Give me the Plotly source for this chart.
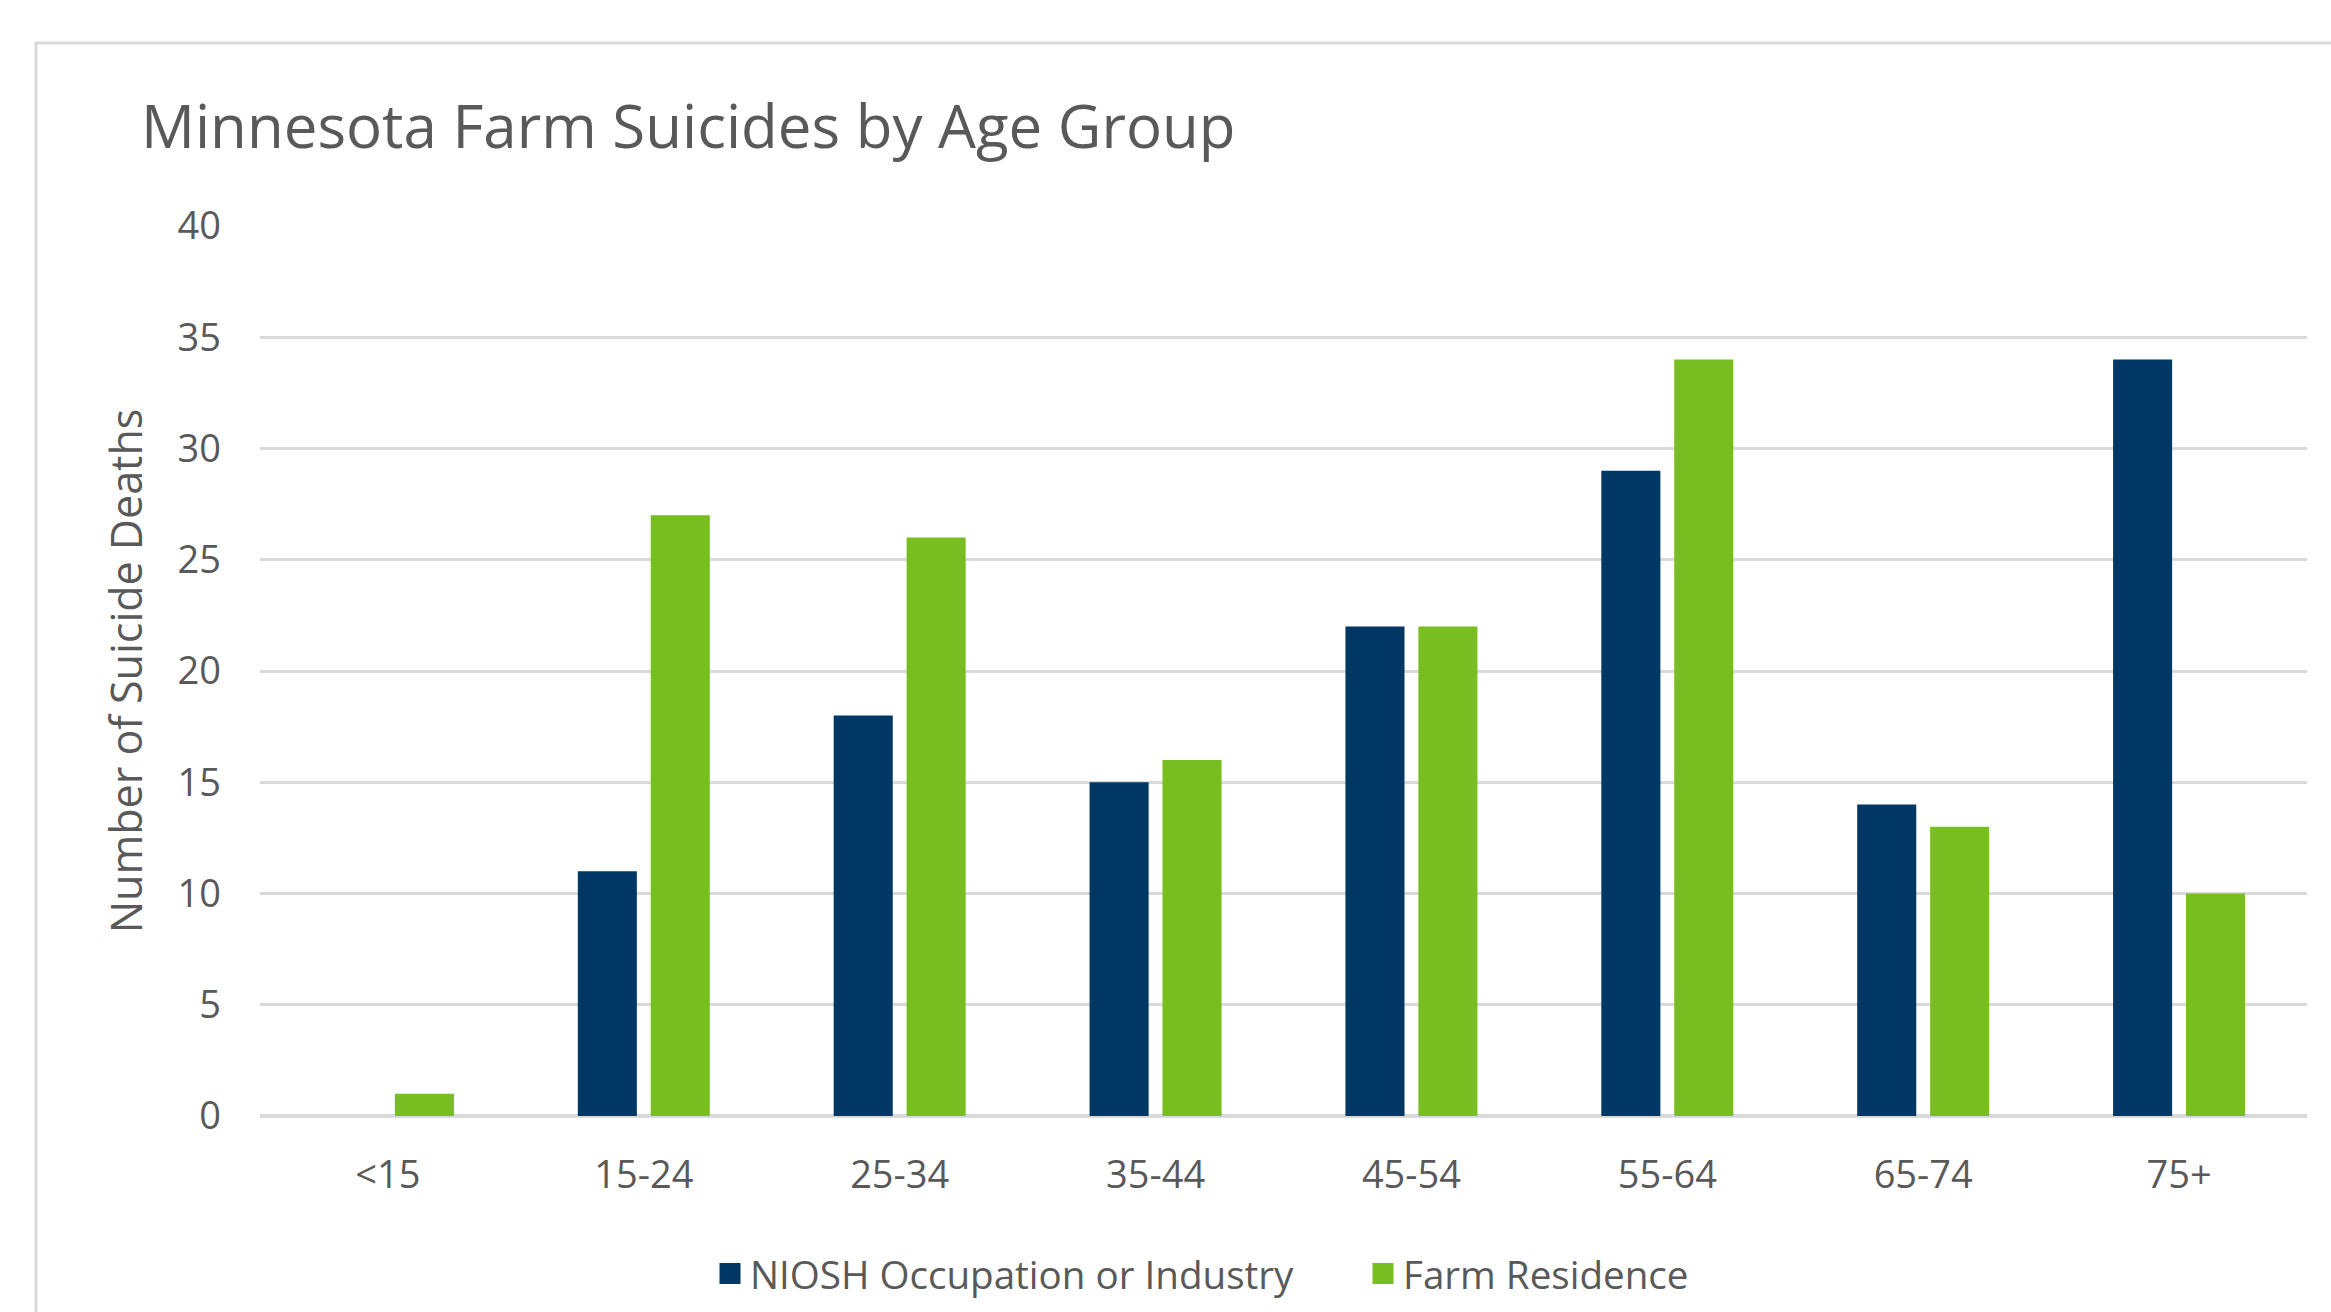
import plotly.graph_objects as go

age_groups = ["<15", "15-24", "25-34", "35-44", "45-54", "55-64", "65-74", "75+"]
niosh = [0, 11, 18, 15, 22, 29, 14, 34]
farm = [1, 27, 26, 16, 22, 34, 13, 10]
series_names = ["NIOSH Occupation or Industry", "Farm Residence"]
colors = ["#003865", "#78BE21"]
y_ticks = [0, 5, 10, 15, 20, 25, 30, 35, 40]

W, H = 2331, 1312
L, R, T, B = 260, 24, 226, 196
pw, ph = W - L - R, H - T - B

def px_x(p):
    return (p - L) / pw

def px_y(p):
    return (H - B - p) / ph

FONT = "Open Sans"
GRAY = "#595959"

fig = go.Figure()
for name, vals, c in zip(series_names, [niosh, farm], colors):
    fig.add_trace(go.Bar(x=age_groups, y=vals, name=name, marker=dict(color=c, line=dict(width=0)),
                         showlegend=False))
for name, c in zip(series_names, colors):
    fig.add_trace(go.Scatter(x=[None], y=[None], mode="markers", name=name,
                             marker=dict(symbol="square", size=16, color=c, line=dict(color=c, width=5))))

fig.update_layout(
    width=W, height=H,
    margin=dict(l=L, r=R, t=T, b=B, autoexpand=False),
    paper_bgcolor="white", plot_bgcolor="white",
    barmode="group", bargap=0.43, bargroupgap=0.19,
    font=dict(family=FONT, color=GRAY, size=38),
    title=dict(text="Minnesota Farm Suicides by Age Group", x=141 / W, xanchor="left",
               xref="container", yref="container", y=1 - 127 / H, yanchor="middle",
               font=dict(size=60, color=GRAY, family=FONT)),
    legend=dict(orientation="h", x=px_x(1363), xanchor="center", y=px_y(1274), yanchor="middle",
                font=dict(size=38.6, color=GRAY, family=FONT), entrywidth=608, entrywidthmode="pixels",
                itemsizing="trace", bgcolor="rgba(0,0,0,0)"),
    xaxis=dict(showgrid=False, showline=False, zeroline=False, ticks="", ticklabelstandoff=33,
               tickfont=dict(size=38, color=GRAY), fixedrange=True),
    yaxis=dict(range=[0, 40], tickvals=y_ticks, showgrid=True, gridcolor="#d9d9d9", gridwidth=3,
               zeroline=True, zerolinecolor="#d9d9d9", zerolinewidth=4, showline=False, ticks="",
               ticklabelstandoff=38, tickfont=dict(size=38, color=GRAY),
               title=dict(text="Number of Suicide Deaths", standoff=21, font=dict(size=43, color=GRAY)),
               fixedrange=True),
    shapes=[dict(type="rect", xref="paper", yref="paper", x0=px_x(36), x1=px_x(2600),
                 y0=px_y(1600), y1=px_y(43), line=dict(color="#d9d9d9", width=3), layer="below")],
)

fig.write_html("out.html")
